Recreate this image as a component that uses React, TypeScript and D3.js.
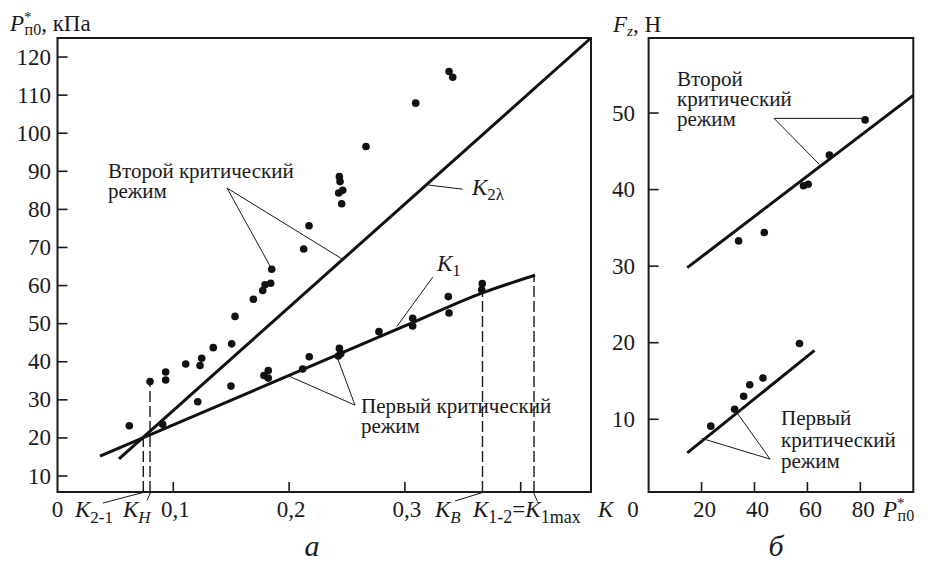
import React from "react";
import * as d3 from "d3";

// ---------- Data (panel а) ----------
const secondK = [0.0799, 0.0934, 0.0934, 0.1107, 0.1231, 0.1245, 0.1345, 0.1504, 0.1533, 0.1691, 0.1772, 0.1792, 0.1841, 0.185, 0.2126, 0.2172, 0.2428, 0.2434, 0.244, 0.2463, 0.2454, 0.2664, 0.3093, 0.3381, 0.3413];
const secondP = [34.8, 37.3, 35.2, 39.4, 39.0, 40.9, 43.7, 44.7, 51.9, 56.4, 58.7, 60.2, 60.6, 64.3, 69.6, 75.7, 84.3, 88.6, 87.3, 85.0, 81.5, 96.5, 107.9, 116.2, 114.7];
const firstK = [0.062, 0.0908, 0.1211, 0.1498, 0.1783, 0.182, 0.182, 0.2117, 0.2174, 0.2425, 0.2434, 0.2446, 0.2776, 0.3067, 0.3067, 0.3375, 0.3381, 0.3663, 0.3668];
const firstP = [23.2, 23.6, 29.5, 33.6, 36.4, 37.7, 35.7, 38.1, 41.3, 41.5, 43.5, 42.1, 47.9, 51.4, 49.4, 57.1, 52.8, 58.9, 60.5];
const k2LambdaK = [0.0531, 0.4607];
const k2LambdaP = [14.5, 125];
const k1K = [0.0367, 0.3, 0.367, 0.4124];
const k1P = [15.2, 49.4, 58.1, 62.7];
const yTicksA = [10, 20, 30, 40, 50, 60, 70, 80, 90, 100, 110, 120];
const xTicksA = [0.1, 0.2, 0.3, 0.4];
const xTickLabelsA = ["0,1", "0,2", "0,3", ""];
// dashed markers: K2-1, KH, KB, K1max
const markK = [0.0741, 0.0799, 0.367, 0.4115];
const markP = [20.3, 34.8, 60.5, 62.7];

// ---------- Data (panel б) ----------
const upperPx = [34.0, 43.7, 58.5, 60.3, 68.3, 81.8];
const upperFz = [33.3, 34.4, 40.5, 40.7, 44.5, 49.1];
const lowerPx = [23.5, 32.5, 35.9, 38.2, 43.2, 57.0];
const lowerFz = [9.1, 11.3, 13.0, 14.5, 15.4, 19.9];
const upperLineP = [14.6, 100];
const upperLineF = [29.8, 52.3];
const lowerLineP = [14.6, 62.7];
const lowerLineF = [5.6, 19.0];
const yTicksB = [10, 20, 30, 40, 50];
const xTicksB = [20, 40, 60, 80];

const TS = { fontFamily: '"Liberation Serif"' };

export default function App() {
  const xA = d3.scaleLinear().domain([0, 0.4607]).range([57.5, 591]);
  const yA = d3.scaleLinear().domain([5.8, 125]).range([492, 38]);
  const xB = d3.scaleLinear().domain([0, 100]).range([648.6, 913.3]);
  const yB = d3.scaleLinear().domain([0.5, 59.8]).range([492, 38]);

  const lineA = d3.line<[number, number]>().x((d) => xA(d[0])).y((d) => yA(d[1]));
  const curveA = d3.line<[number, number]>().x((d) => xA(d[0])).y((d) => yA(d[1])).curve(d3.curveMonotoneX);
  const lineB = d3.line<[number, number]>().x((d) => xB(d[0])).y((d) => yB(d[1]));

  const zip = (a: number[], b: number[]) => a.map((v, i) => [v, b[i]] as [number, number]);

  const A = (k: number, p: number) => [xA(k), yA(p)];
  const B = (p: number, f: number) => [xB(p), yB(f)];
  const poly = (pts: number[][]) => pts.map((p) => p.join(",")).join(" ");

  const fs = 23;
  const ink = "#1a1a1a";
  const T = (props: any) => <text fill={ink} fontFamily="Liberation Serif" style={TS} {...props} />;
  const Multi = ({ x, y, lines, gap }: { x: number; y: number; lines: string[]; gap: number }) => (
    <T x={x} y={y} fontSize={21}>
      {lines.map((l, i) => (
        <tspan key={i} x={x} dy={i === 0 ? 0 : gap}>{l}</tspan>
      ))}
    </T>
  );
  return (
    <svg width={931} height={563} style={{ position: "absolute", left: 0, top: 0, background: "#fff" }}>
      <rect x={0} y={0} width={931} height={563} fill="#fff" />
      {/* ---------- Panel а ---------- */}
      <rect x={xA(0)} y={38} width={591 - xA(0)} height={492 - 38} fill="none" stroke={ink} strokeWidth={2} />
      {yTicksA.map((t) => (
        <g key={"ya" + t}>
          <line x1={xA(0)} x2={xA(0) + 10} y1={yA(t)} y2={yA(t)} stroke={ink} strokeWidth={1.6} />
          <T x={51} y={yA(t) + 7.5} textAnchor="end" fontSize={fs}>{t}</T>
        </g>
      ))}
      {xTicksA.map((t, i) => (
        <g key={"xa" + t}>
          <line x1={xA(t)} x2={xA(t)} y1={492} y2={482} stroke={ink} strokeWidth={1.6} />
          <T x={xA(t) + 2} y={517} textAnchor="middle" fontSize={fs}>{xTickLabelsA[i]}</T>
        </g>
      ))}
      <T x={xA(0)} y={517} textAnchor="middle" fontSize={fs}>0</T>

      {/* dashed markers */}
      {markK.map((k, i) => (
        <line key={"m" + i} x1={xA(k)} x2={xA(k)} y1={492} y2={yA(markP[i])} stroke={ink} strokeWidth={1.4} strokeDasharray="11,4" />
      ))}

      {/* lines */}
      <path d={lineA(zip(k2LambdaK, k2LambdaP)) || ""} fill="none" stroke="#111" strokeWidth={3} />
      <path d={curveA(zip(k1K, k1P)) || ""} fill="none" stroke="#111" strokeWidth={3} />

      {/* points */}
      {zip(secondK, secondP).map((d, i) => (
        <circle key={"s" + i} cx={xA(d[0])} cy={yA(d[1])} r={3.8} fill="#111" />
      ))}
      {zip(firstK, firstP).map((d, i) => (
        <circle key={"f" + i} cx={xA(d[0])} cy={yA(d[1])} r={3.8} fill="#111" />
      ))}

      {/* annotations panel а */}
      <g stroke={ink} strokeWidth={1} fill="none">
        <polyline points={poly([A(0.185, 64.3), A(0.1464, 85.6), A(0.2463, 66.9)])} />
        <polyline points={poly([A(0.3202, 86.4), A(0.3499, 85.3)])} />
        <polyline points={poly([A(0.324, 62.2), A(0.2929, 49.2)])} />
        <polyline points={poly([A(0.2411, 41.5), A(0.2569, 28.6), A(0.1993, 36.3)])} />
        <polyline points="103,503 143,492.5" />
        <polyline points="147,500.5 150.5,492.5" />
        <polyline points="455,501 482.5,492.5" />
        <polyline points="533.5,492.5 537.5,501.5" />
      </g>
      <Multi x={108} y={177.5} gap={20.5} lines={["Второй критический", "режим"]} />
      <Multi x={361} y={413} gap={20} lines={["Первый критический", "режим"]} />
      <T x={472} y={195} fontSize={fs}>
        <tspan fontStyle="italic">K</tspan>
        <tspan fontSize={17} dy={5}>2λ</tspan>
      </T>
      <T x={437} y={271} fontSize={fs}>
        <tspan fontStyle="italic">K</tspan>
        <tspan fontSize={17} dy={5}>1</tspan>
      </T>
      <T x={75} y={517} fontSize={fs}>
        <tspan fontStyle="italic">K</tspan>
        <tspan fontSize={17} dy={6}>2-1</tspan>
      </T>
      <T x={123} y={517} fontSize={fs}>
        <tspan fontStyle="italic">K</tspan>
        <tspan fontSize={17} dy={6} fontStyle="italic">H</tspan>
      </T>
      <T x={435} y={517} fontSize={fs}>
        <tspan fontStyle="italic">K</tspan>
        <tspan fontSize={17} dy={6} fontStyle="italic">B</tspan>
      </T>
      <T x={473} y={517} fontSize={fs}>
        <tspan fontStyle="italic">K</tspan>
        <tspan fontSize={18} dy={6}>1-2</tspan>
        <tspan dy={-6}>=</tspan>
        <tspan fontStyle="italic">K</tspan>
        <tspan fontSize={18} dy={6}>1max</tspan>
      </T>
      <T x={598} y={517} fontSize={fs} fontStyle="italic">K</T>
      {/* title а */}
      <T x={10} y={31} fontSize={fs}>
        <tspan fontStyle="italic">P</tspan>
        <tspan fontSize={15} dy={-9}>*</tspan>
        <tspan fontSize={16} dx={-7} dy={13}>п0</tspan>
        <tspan dy={-4}>, кПа</tspan>
      </T>
      <T x={312} y={556} fontSize={30} fontStyle="italic" textAnchor="middle">а</T>

      {/* ---------- Panel б ---------- */}
      <rect x={xB(0)} y={38} width={xB(100) - xB(0)} height={492 - 38} fill="none" stroke={ink} strokeWidth={2} />
      {yTicksB.map((t) => (
        <g key={"yb" + t}>
          <line x1={xB(0)} x2={xB(0) + 10} y1={yB(t)} y2={yB(t)} stroke={ink} strokeWidth={1.6} />
          <T x={635} y={yB(t) + 7.5} textAnchor="end" fontSize={fs}>{t}</T>
        </g>
      ))}
      {xTicksB.map((t) => (
        <g key={"xb" + t}>
          <line x1={xB(t)} x2={xB(t)} y1={492} y2={482} stroke={ink} strokeWidth={1.6} />
          <T x={xB(t) + 3} y={517} textAnchor="middle" fontSize={fs}>{t}</T>
        </g>
      ))}
      <T x={633} y={517} textAnchor="middle" fontSize={fs}>0</T>
      <path d={lineB(zip(upperLineP, upperLineF)) || ""} fill="none" stroke="#111" strokeWidth={3} />
      <path d={lineB(zip(lowerLineP, lowerLineF)) || ""} fill="none" stroke="#111" strokeWidth={3} />
      {zip(upperPx, upperFz).map((d, i) => (
        <circle key={"u" + i} cx={xB(d[0])} cy={yB(d[1])} r={3.8} fill="#111" />
      ))}
      {zip(lowerPx, lowerFz).map((d, i) => (
        <circle key={"l" + i} cx={xB(d[0])} cy={yB(d[1])} r={3.8} fill="#111" />
      ))}
      <g stroke={ink} strokeWidth={1} fill="none">
        <polyline points={poly([B(81.8, 49.3), B(47.4, 49.3), B(64.5, 43.3)])} />
        <polyline points={poly([B(20.1, 7.5), B(45.9, 4.8), B(33.3, 10.9)])} />
      </g>
      <Multi x={677} y={86} gap={20} lines={["Второй", "критический", "режим"]} />
      <Multi x={781} y={425} gap={21.5} lines={["Первый", "критический", "режим"]} />
      <T x={613} y={32} fontSize={fs}>
        <tspan fontStyle="italic">F</tspan>
        <tspan fontSize={15} fontStyle="italic" dy={4}>z</tspan>
        <tspan dy={-4}>, Н</tspan>
      </T>
      <T x={883} y={517} fontSize={fs}>
        <tspan fontStyle="italic">P</tspan>
        <tspan fontSize={15} dy={-9}>*</tspan>
        <tspan fontSize={16} dx={-7} dy={13}>п0</tspan>
      </T>
      <T x={776} y={556} fontSize={30} fontStyle="italic" textAnchor="middle">б</T>
    </svg>
  );
}
